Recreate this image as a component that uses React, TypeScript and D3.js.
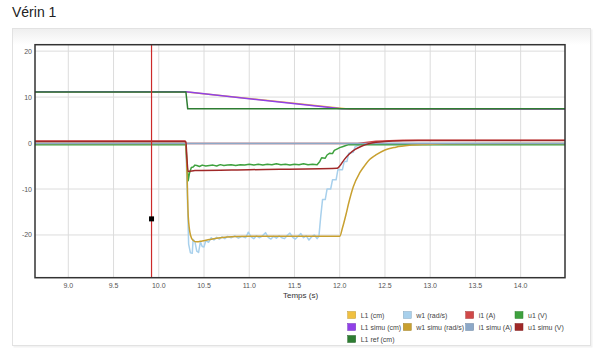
import React from "react";
import * as d3 from "d3";

type P = [number, number];

const X_TICKS = [9.0, 9.5, 10.0, 10.5, 11.0, 11.5, 12.0, 12.5, 13.0, 13.5, 14.0];
const Y_TICKS = [20, 10, 0, -10, -20];
const X_DOMAIN: [number, number] = [8.632, 14.49];
const Y_DOMAIN: [number, number] = [-29.3, 21.4];
const CURSOR_T = 9.92;
const MARKER: P = [9.92, -16.5];

const L1: P[] = [[8.63, 11.1], [10.31, 11.1], [12.12, 7.38], [14.49, 7.35]];
const L1_SIMU: P[] = [[8.63, 11.15], [10.30, 11.15], [12.02, 7.45], [14.49, 7.42]];
const L1_REF: P[] = [[8.63, 11.1], [10.30, 11.1], [10.32, 7.45], [14.49, 7.45]];

const W1: P[] = [
  [8.63, -0.1], [10.30, -0.1], [10.31, -8], [10.32, -14.5], [10.33, -22], [10.35, -23.9], [10.37, -24],
  [10.38, -21], [10.40, -21.5], [10.42, -23.5], [10.44, -23.8], [10.46, -21.5], [10.48, -22.5],
  [10.50, -22.6], [10.52, -21.2], [10.55, -21.6], [10.58, -20.6], [10.61, -21.1], [10.64, -20.5],
  [10.67, -20.9], [10.70, -20.4], [10.73, -20.8], [10.76, -20.3], [10.80, -20.6], [10.84, -20.2],
  [10.88, -20.7], [10.92, -20.3], [10.96, -20.6], [10.99, -19.4], [11.02, -20.4], [11.05, -20.8],
  [11.08, -20.2], [11.11, -20.6], [11.14, -20.3], [11.18, -19.5], [11.21, -20.5], [11.24, -20.9],
  [11.27, -20.3], [11.30, -20.7], [11.33, -20.2], [11.36, -20.6], [11.39, -20.8], [11.42, -20.1],
  [11.45, -19.6], [11.48, -20.5], [11.51, -20.9], [11.54, -20.3], [11.57, -19.7], [11.60, -20.6],
  [11.63, -20.2], [11.66, -21.1], [11.69, -20.4], [11.72, -20.0], [11.75, -20.8], [11.77, -20.3],
  [11.79, -16], [11.81, -12.3], [11.84, -12.3], [11.86, -10], [11.90, -10], [11.92, -8],
  [11.96, -8], [11.98, -5.8], [12.03, -5.8], [12.05, -4], [12.08, -4], [12.10, -2.2],
  [12.15, -2], [12.17, -0.8], [12.22, -0.4], [12.30, -0.1], [14.49, -0.1],
];

const W1_SIMU: P[] = [
  [8.63, -0.1], [10.30, -0.1], [10.31, -5], [10.326, -16], [10.35, -20], [10.38, -21.2],
  [10.42, -21.5], [10.48, -21.3], [10.56, -21], [10.68, -20.6], [10.85, -20.35], [11.0, -20.3],
  [12.0, -20.3], [12.03, -18.5], [12.07, -15.5], [12.1, -13], [12.15, -9.5], [12.22, -6.5],
  [12.28, -4.8], [12.33, -3.6], [12.4, -2.6], [12.5, -1.5], [12.62, -0.9], [12.77, -0.5],
  [12.95, -0.3], [13.2, -0.15], [14.49, -0.1],
];

const I1: P[] = [[8.63, 0.45], [10.29, 0.45], [10.30, -0.1], [12.2, -0.1], [12.4, 0.4], [12.7, 0.6], [14.49, 0.6]];
const I1_SIMU: P[] = [[8.63, -0.1], [14.49, -0.1]];

const U1: P[] = [
  [8.63, -0.35], [10.30, -0.35], [10.31, -4], [10.325, -8.2], [10.34, -6.5], [10.36, -5.3],
  [10.38, -5.2], [10.40, -4.8], [10.42, -4.9], [10.45, -5.1], [10.48, -4.8], [10.52, -5.0],
  [10.56, -4.9], [10.60, -4.8], [10.64, -5.0], [10.68, -4.7], [10.72, -4.9], [10.76, -4.8],
  [10.80, -4.7], [10.85, -4.9], [10.90, -4.7], [10.95, -4.8], [11.00, -4.6], [11.05, -4.8],
  [11.10, -4.6], [11.15, -4.8], [11.20, -4.6], [11.25, -4.7], [11.30, -4.5], [11.35, -4.7],
  [11.40, -4.6], [11.45, -4.8], [11.50, -4.6], [11.55, -4.7], [11.60, -4.5], [11.65, -4.7],
  [11.70, -4.6], [11.75, -4.7], [11.78, -4.0], [11.80, -3.2], [11.84, -3.3], [11.86, -2.6],
  [11.89, -2.2], [11.92, -2.3], [11.94, -1.6], [11.98, -1.2], [12.0, -1.0], [12.03, -0.8],
  [12.06, -0.6], [12.10, -0.35], [14.49, -0.35],
];

const U1_SIMU: P[] = [
  [8.63, 0.35], [10.30, 0.35], [10.31, -3], [10.325, -6.2], [10.40, -6.0], [11.0, -5.8],
  [11.97, -5.5], [12.0, -5.0], [12.05, -3.6], [12.1, -2.5], [12.17, -1.4], [12.24, -0.7],
  [12.32, -0.15], [12.4, 0.15], [12.5, 0.35], [12.7, 0.5], [13.0, 0.55], [14.49, 0.55],
];

const SERIES_NAMES = ["L1 (cm)", "w1 (rad/s)", "i1 (A)", "u1 (V)", "L1 simu (cm)", "w1 simu (rad/s)", "i1 simu (A)", "u1 simu (V)", "L1 ref (cm)"];
const SERIES_COLORS = ["#f0c040", "#a8d0ec", "#d04848", "#3ea13e", "#9040e8", "#c8a030", "#8ca8c8", "#a02828", "#2e7d32"];
const SERIES_DATA = [L1, W1, I1, U1, L1_SIMU, W1_SIMU, I1_SIMU, U1_SIMU, L1_REF];
const SMOOTH = [false, false, false, false, false, true, false, true, false];

export default function App() {
  const W = 600, H = 357;
  const left = 35, right = 565, top = 44.7, bottom = 277.7;
  const x = d3.scaleLinear().domain(X_DOMAIN).range([left, right]);
  const y = d3.scaleLinear().domain(Y_DOMAIN).range([bottom, top]);
  const mk = (smooth: boolean) =>
    d3.line<P>().x((d) => x(d[0])).y((d) => y(d[1])).curve(smooth ? d3.curveMonotoneX : d3.curveLinear);

  const legendCols = [347.7, 403.3, 465.7, 515];
  const legendRows = [315, 327, 339];

  return (
    <svg width={W} height={H} style={{ position: "absolute", left: 0, top: 0 }} fontFamily="Liberation Sans, Arial, sans-serif">
      <defs>
        <linearGradient id="hdr" x1="0" y1="0" x2="0" y2="1">
          <stop offset="0" stopColor="#efefef" />
          <stop offset="1" stopColor="#ffffff" />
        </linearGradient>
        <clipPath id="plot">
          <rect x={left} y={top} width={right - left} height={bottom - top} />
        </clipPath>
      </defs>
      <rect x={0} y={0} width={W} height={H} fill="#ffffff" />
      <text x={12} y={17} fontSize={14} fill="#222">Vérin 1</text>
      <rect x={13.5} y={29.5} width={579} height={318} fill="#f2f2f2" stroke="none" />
      <rect x={12.5} y={28.5} width={578} height={317} fill="#ffffff" stroke="#e2e2e2" />
      <rect x={13} y={29} width={577} height={16} fill="url(#hdr)" />

      {X_TICKS.map((t) => (
        <line key={"gx" + t} x1={x(t)} x2={x(t)} y1={top} y2={bottom} stroke="#dcdcdc" strokeWidth={1} />
      ))}
      {Y_TICKS.map((v) => (
        <line key={"gy" + v} x1={left} x2={right} y1={y(v)} y2={y(v)} stroke="#dcdcdc" strokeWidth={1} />
      ))}

      <g clipPath="url(#plot)">
        {SERIES_DATA.map((d, i) => (
          <path key={SERIES_NAMES[i]} d={mk(SMOOTH[i])(d) || ""} fill="none" stroke={SERIES_COLORS[i]} strokeWidth={1.5} strokeLinejoin="round" />
        ))}
        <line x1={x(CURSOR_T)} x2={x(CURSOR_T)} y1={top} y2={bottom} stroke="#cc2a2a" strokeWidth={1.2} />
        <rect x={x(MARKER[0]) - 2.5} y={y(MARKER[1]) - 2.5} width={5} height={5} fill="#000" />
      </g>

      <rect x={left} y={top} width={right - left} height={bottom - top} fill="none" stroke="#333" strokeWidth={1.5} />

      {X_TICKS.map((t) => (
        <text key={"tx" + t} x={x(t)} y={287.5} fontSize={7} fill="#555" textAnchor="middle">{t.toFixed(1)}</text>
      ))}
      {Y_TICKS.map((v) => (
        <text key={"ty" + v} x={32} y={y(v) + 2.5} fontSize={7} fill="#555" textAnchor="end">{v}</text>
      ))}
      <text x={300.5} y={298} fontSize={8} fill="#333" textAnchor="middle">Temps (s)</text>

      {SERIES_NAMES.map((name, i) => {
        const col = legendCols[i % 4];
        const row = legendRows[Math.floor(i / 4)];
        return (
          <g key={"lg" + name}>
            <rect x={col} y={row - 3.5} width={8} height={7} fill={SERIES_COLORS[i]} stroke={d3.color(SERIES_COLORS[i])!.darker(0.6).toString()} strokeWidth={0.5} />
            <text x={col + 13} y={row + 2.5} fontSize={7} fill="#444">{name}</text>
          </g>
        );
      })}
    </svg>
  );
}
